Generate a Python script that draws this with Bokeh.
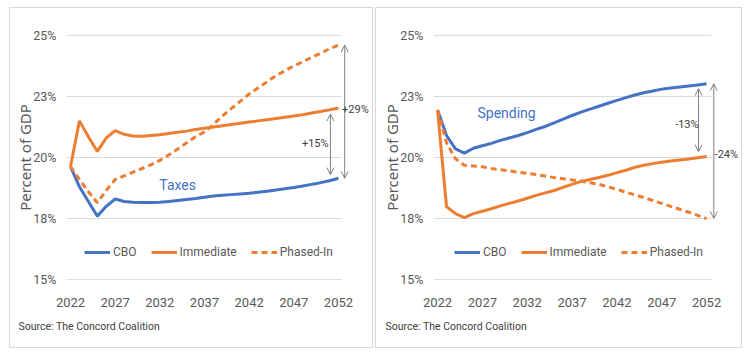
from bokeh.plotting import figure
from bokeh.layouts import row
from bokeh.models import (Range1d, FixedTicker, Legend, LegendItem, Arrow,
                          OpenHead, Label, Title)
from bokeh.embed import file_html
from bokeh.resources import INLINE

years = list(range(2022, 2053))

# Taxes (percent of GDP)
tax_cbo = [19.63, 18.8, 18.2, 17.6, 18.0, 18.3, 18.2, 18.17, 18.16, 18.16, 18.17,
           18.2, 18.24, 18.28, 18.32, 18.37, 18.42, 18.45, 18.48, 18.51, 18.54,
           18.58, 18.62, 18.67, 18.72, 18.77, 18.83, 18.9, 18.97, 19.05, 19.15]
tax_immediate = [19.63, 21.5, 20.85, 20.25, 20.8, 21.1, 20.95, 20.88, 20.87, 20.9, 20.93,
                 20.98, 21.03, 21.08, 21.15, 21.2, 21.25, 21.3, 21.35, 21.4, 21.45,
                 21.5, 21.55, 21.6, 21.65, 21.7, 21.75, 21.82, 21.88, 21.95, 22.03]
tax_phased = [19.63, 19.1, 18.6, 18.15, 18.65, 19.1, 19.25, 19.4, 19.55, 19.7, 19.88,
              20.1, 20.35, 20.6, 20.85, 21.05, 21.35, 21.7, 22.0, 22.3, 22.6,
              22.85, 23.1, 23.35, 23.55, 23.75, 23.92, 24.1, 24.27, 24.45, 24.6]

# Spending (percent of GDP)
spend_cbo = [21.95, 20.9, 20.35, 20.18, 20.38, 20.48, 20.58, 20.7, 20.8, 20.9, 21.02,
             21.15, 21.27, 21.42, 21.57, 21.72, 21.86, 21.98, 22.1, 22.22, 22.34,
             22.45, 22.56, 22.65, 22.72, 22.8, 22.85, 22.89, 22.93, 22.97, 23.02]
spend_immediate = [21.95, 17.99, 17.7, 17.54, 17.7, 17.8, 17.9, 18.02, 18.12, 18.22, 18.33,
                   18.45, 18.55, 18.65, 18.78, 18.9, 19.02, 19.1, 19.18, 19.27, 19.38,
                   19.48, 19.6, 19.68, 19.75, 19.81, 19.86, 19.9, 19.94, 19.99, 20.04]
spend_phased = [21.95, 20.6, 19.95, 19.68, 19.65, 19.62, 19.55, 19.5, 19.45, 19.4, 19.35,
                19.3, 19.24, 19.18, 19.13, 19.08, 19.03, 18.97, 18.9, 18.8, 18.7,
                18.58, 18.47, 18.36, 18.24, 18.12, 18.0, 17.88, 17.76, 17.63, 17.5]

x_ticks = [2022, 2027, 2032, 2037, 2042, 2047, 2052]
y_ticks = [15, 17.5, 20, 22.5, 25]
y_tick_labels = ["15%", "18%", "20%", "23%", "25%"]
series_names = ["CBO", "Immediate", "Phased-In"]
source_text = "Source: The Concord Coalition"

BLUE = "#4472C4"
ORANGE = "#ED7D31"
TXT = "#595959"
DARK = "#404040"
GRID = "#D9D9D9"
ARROW = "#808080"
FONT = "Roboto"
X_START = 2021.55


def make_panel(cbo, imm, ph, width, mb_left, mb_right, x_end, grid_end, margin,
               title_text, title_xy, arrows, labels, legend_x):
    p = figure(width=width, height=341, output_backend="svg", toolbar_location=None,
               x_range=Range1d(X_START, x_end), y_range=Range1d(14.8, 25.2),
               min_border_left=mb_left, min_border_right=mb_right,
               min_border_top=22, min_border_bottom=65)
    p.margin = margin
    p.styles = {"border": "1px solid #D9D9D9", "box-sizing": "border-box"}
    p.outline_line_color = None
    p.background_fill_color = "white"
    p.border_fill_color = "white"
    p.xgrid.grid_line_color = None
    p.ygrid.grid_line_color = None

    p.xaxis.ticker = FixedTicker(ticks=x_ticks)
    p.yaxis.ticker = FixedTicker(ticks=y_ticks)
    p.yaxis.major_label_overrides = {t: l for t, l in zip(y_ticks, y_tick_labels)}
    for ax in (p.xaxis, p.yaxis):
        ax.axis_line_color = None
        ax.major_tick_line_color = None
        ax.minor_tick_line_color = None
        ax.major_tick_out = 0
        ax.major_tick_in = 0
        ax.minor_tick_out = 0
        ax.minor_tick_in = 0
        ax.major_label_text_font = FONT
        ax.major_label_text_color = TXT
    p.xaxis.major_label_text_font_size = "13px"
    p.yaxis.major_label_text_font_size = "12.5px"
    p.xaxis.major_label_standoff = 13
    p.yaxis.major_label_standoff = 10
    p.yaxis.axis_label = "Percent of GDP"
    p.yaxis.axis_label_text_font = "Noto Sans"
    p.yaxis.axis_label_text_font_size = "15px"
    p.yaxis.axis_label_text_font_style = "normal"
    p.yaxis.axis_label_text_color = TXT
    p.yaxis.axis_label_standoff = -5

    # horizontal gridlines limited to the data span
    p.segment(x0=[X_START] * len(y_ticks), y0=y_ticks,
              x1=[grid_end] * len(y_ticks), y1=y_ticks,
              line_color=GRID, line_width=1)

    r_cbo = p.line(years, cbo, line_color=BLUE, line_width=3)
    r_imm = p.line(years, imm, line_color=ORANGE, line_width=3)
    r_ph = p.line(years, ph, line_color=ORANGE, line_width=3, line_dash="6 4")

    legend = Legend(items=[LegendItem(label=n, renderers=[r])
                           for n, r in zip(series_names, [r_cbo, r_imm, r_ph])],
                    orientation="horizontal", location=(legend_x, 25),
                    glyph_width=26, glyph_height=14, label_standoff=3, spacing=14,
                    padding=0, margin=0, background_fill_alpha=0,
                    border_line_color=None, label_text_font=FONT,
                    label_text_font_size="12px", label_text_color=TXT)
    p.add_layout(legend)

    for (xa, ya, yb) in arrows:
        p.add_layout(Arrow(start=OpenHead(size=7, line_color=ARROW, line_width=1),
                           end=OpenHead(size=7, line_color=ARROW, line_width=1),
                           x_start=xa, y_start=ya, x_end=xa, y_end=yb,
                           line_color=ARROW, line_width=1))
    for (xl, yl, txt) in labels:
        p.add_layout(Label(x=xl, y=yl, text=txt, text_align="center",
                           text_baseline="middle", text_font=FONT,
                           text_font_size="11px", text_color=DARK))
    p.add_layout(Label(x=title_xy[0], y=title_xy[1], text=title_text,
                       text_align="center", text_baseline="middle",
                       text_font=FONT, text_font_size="14px", text_color=BLUE))

    p.add_layout(Title(text=source_text, align="left", vertical_align="bottom",
                       text_font=FONT, text_font_size="10.5px",
                       text_font_style="normal", text_color=DARK,
                       offset=-48, standoff=16), "below")
    return p


left = make_panel(
    tax_cbo, tax_immediate, tax_phased, 364, 56, 3, 2055.70, 2052.34, (7, 1, 8, 9),
    "Taxes", (2034.0, 18.87),
    [(2051.1, tax_immediate[-1] - 0.25, tax_cbo[-1] + 0.15),
     (2052.7, tax_phased[-1], tax_cbo[-1])],
    [(2049.4, 20.59, "+15%"), (2053.9, 21.96, "+29%")], 18)

right = make_panel(
    spend_cbo, spend_immediate, spend_phased, 367, 57, 2, 2055.89, 2052.55, (7, 8, 8, 1),
    "Spending", (2029.7, 21.84),
    [(2051.1, spend_cbo[-1] - 0.2, spend_immediate[-1] + 0.2),
     (2052.8, spend_cbo[-1], spend_phased[-1])],
    [(2049.8, 21.34, "-13%"), (2054.2, 20.11, "-24%")], 21)

layout = row(left, right, spacing=0)
open("out.html", "w").write(file_html(layout, INLINE))
